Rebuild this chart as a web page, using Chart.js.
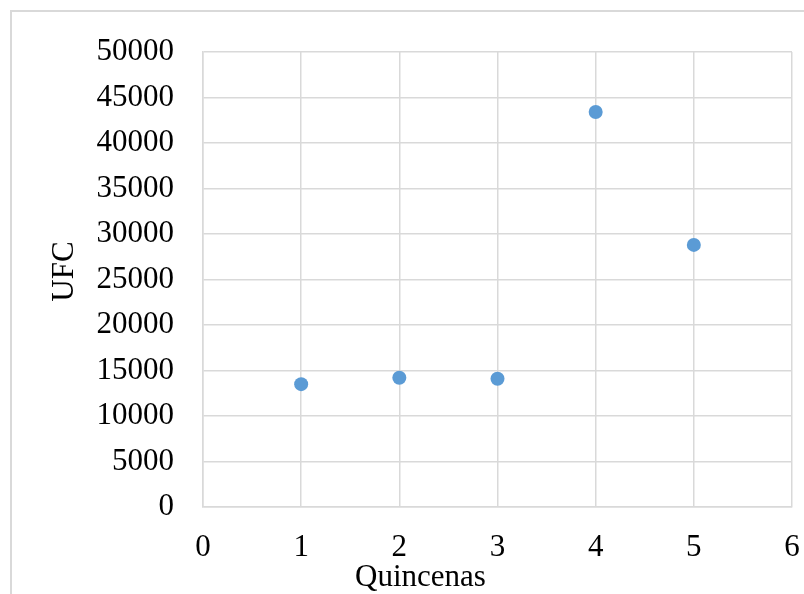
<!DOCTYPE html>
<html>
<head>
<meta charset="utf-8">
<script src="https://cdn.jsdelivr.net/npm/chart.js@4.4.1/dist/chart.umd.min.js"></script>
<style>
  html, body { margin: 0; padding: 0; background: #ffffff; }
  #wrap { position: relative; width: 804px; height: 594px; overflow: hidden; }
  #frame { position: absolute; left: 10px; top: 10px; width: 900px; height: 700px; border-left: 2px solid #d9d9d9; border-top: 2px solid #d9d9d9; box-sizing: border-box; }
  canvas { position: absolute; left: 0; top: 0; }
</style>
</head>
<body>
<div id="wrap">
  <div id="frame"></div>
  <canvas id="c" width="804" height="594"></canvas>
</div>
<script>
const quincenas = [1, 2, 3, 4, 5];
const ufc = [13500, 14200, 14100, 43400, 28800];
const xTitle = 'Quincenas';
const yTitle = 'UFC';

const points = quincenas.map((q, i) => ({ x: q, y: ufc[i] }));
const fontFamily = '"Liberation Serif", "Times New Roman", serif';

// Axis titles drawn offset from the plot centre, as in the reference
const axisTitles = {
  id: 'axisTitles',
  afterDraw(chart) {
    const ctx = chart.ctx;
    const area = chart.chartArea;
    ctx.save();
    ctx.fillStyle = '#000';
    ctx.font = '31px ' + fontFamily;
    ctx.textAlign = 'center';
    ctx.textBaseline = 'middle';
    ctx.fillText(xTitle, (area.left + area.right) / 2 - 77, chart.height - 16);
    ctx.translate(65, (area.top + area.bottom) / 2 - 8);
    ctx.rotate(-Math.PI / 2);
    ctx.fillText(yTitle, 0, 0);
    ctx.restore();
  }
};

new Chart(document.getElementById('c'), {
  type: 'scatter',
  data: {
    datasets: [{
      data: points,
      backgroundColor: '#5b9bd5',
      borderColor: '#5b9bd5',
      pointRadius: 7,
      pointHoverRadius: 7,
      borderWidth: 0
    }]
  },
  options: {
    responsive: false,
    animation: false,
    layout: { padding: { top: 52, right: 12, bottom: 0, left: 0 } },
    plugins: { legend: { display: false }, tooltip: { enabled: false } },
    scales: {
      x: {
        type: 'linear',
        min: 0, max: 6,
        ticks: { stepSize: 1, color: '#000', padding: 22, font: { family: fontFamily, size: 31 }, callback: (v) => String(v) },
        grid: { color: '#d9d9d9', lineWidth: 1.5, drawTicks: false },
        border: { color: '#d9d9d9', width: 1.5 },
        title: { display: false, text: xTitle },
        afterFit: (s) => { s.height = 87; s.paddingRight = 0; s.paddingLeft = 0; }
      },
      y: {
        type: 'linear',
        min: 0, max: 50000,
        ticks: { stepSize: 5000, color: '#000', padding: 29, font: { family: fontFamily, size: 31 }, callback: (v) => String(v) },
        grid: { color: '#d9d9d9', lineWidth: 1.5, drawTicks: false },
        border: { color: '#d9d9d9', width: 1.5 },
        title: { display: false, text: yTitle },
        afterFit: (s) => { s.width = 203; s.paddingTop = 0; s.paddingBottom = 0; }
      }
    }
  },
  plugins: [axisTitles]
});
</script>
</body>
</html>
